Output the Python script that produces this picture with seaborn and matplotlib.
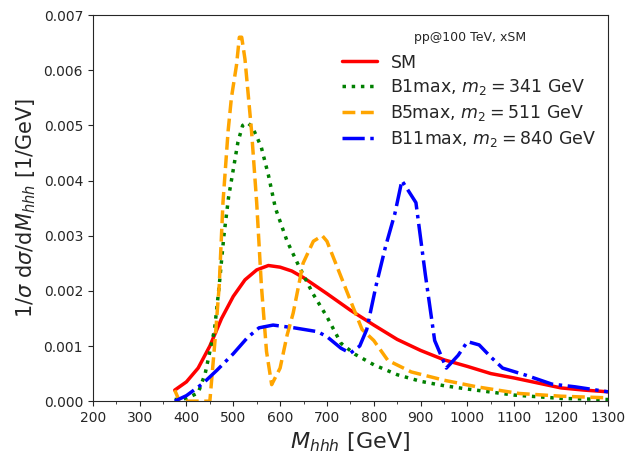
import numpy as np
import pandas as pd
import matplotlib
matplotlib.use('Agg')
import matplotlib.pyplot as plt
import seaborn as sns
from matplotlib.ticker import MultipleLocator

# values
sm_x = [375, 400, 425, 450, 475, 500, 525, 550, 575, 600, 625, 650, 700, 750, 800, 850, 900, 950, 1000, 1050, 1100, 1150, 1200, 1250, 1300]
sm_y = [0.0002, 0.00035, 0.0006, 0.001, 0.0015, 0.0019, 0.0022, 0.00238, 0.00246, 0.00243, 0.00236, 0.00224, 0.00195, 0.00165, 0.00138, 0.00112, 0.00092, 0.00075, 0.00063, 0.0005, 0.00042, 0.00033, 0.00024, 0.0002, 0.00017]

b1_x = [375, 400, 425, 440, 450, 460, 470, 480, 490, 500, 510, 520, 530, 540, 550, 560, 575, 590, 615, 640, 670, 700, 730, 760, 800, 850, 900, 950, 1000, 1100, 1200, 1300]
b1_y = [0.00003, 0.00005, 0.00015, 0.0005, 0.0009, 0.0013, 0.0021, 0.003, 0.0037, 0.0042, 0.0047, 0.005, 0.00505, 0.00498, 0.0048, 0.0046, 0.0041, 0.0035, 0.0029, 0.00245, 0.00195, 0.00153, 0.00105, 0.00085, 0.00066, 0.00048, 0.00036, 0.00028, 0.00022, 0.00011, 0.00005, 0.00003]

b5_x = [375, 385, 400, 425, 450, 462, 470, 478, 489, 496, 507, 513, 518, 525, 539, 550, 560, 571, 582, 600, 615, 628, 649, 671, 690, 700, 728, 756, 775, 800, 830, 880, 950, 1020, 1110, 1200, 1300]
b5_y = [0.0002, 0.0, 0.0, 0.0, 0.0, 0.0012, 0.0021, 0.0036, 0.0049, 0.0055, 0.0061, 0.0066, 0.0066, 0.0062, 0.0049, 0.0036, 0.0021, 0.0009, 0.0003, 0.0006, 0.0012, 0.0016, 0.0025, 0.0029, 0.003, 0.0029, 0.0023, 0.0017, 0.0013, 0.0011, 0.00074, 0.00053, 0.00038, 0.00026, 0.00014, 0.00009, 0.00006]

b11_x = [375, 400, 435, 465, 500, 530, 555, 585, 630, 680, 700, 730, 750, 770, 785, 805, 825, 845, 860, 875, 890, 910, 930, 955, 980, 1000, 1025, 1050, 1075, 1125, 1180, 1230, 1300]
b11_y = [0.0, 0.0001, 0.00032, 0.00056, 0.00086, 0.00115, 0.00133, 0.00138, 0.00133, 0.00126, 0.00117, 0.00096, 0.00087, 0.001, 0.0013, 0.0021, 0.0028, 0.0034, 0.004, 0.0038, 0.0036, 0.0023, 0.0011, 0.0006, 0.00083, 0.00108, 0.00102, 0.0008, 0.0006, 0.00047, 0.00031, 0.00026, 0.00017]

sns.set_style('ticks')
plt.rcParams['font.family'] = ['DejaVu Sans']
plt.rcParams['mathtext.fontset'] = 'dejavusans'

fig = plt.figure(figsize=(6.31, 4.59), dpi=100)
ax = fig.add_axes([0.147, 0.126, 0.8165, 0.841])

lw = 2.5
sns.lineplot(x=sm_x, y=sm_y, ax=ax, color='red', lw=lw, label='SM')
sns.lineplot(x=b1_x, y=b1_y, ax=ax, color='green', lw=lw, ls=':', label=r'B1max, $m_2 = 341$ GeV')
sns.lineplot(x=b5_x, y=b5_y, ax=ax, color='orange', lw=lw, ls='--', label=r'B5max, $m_2 = 511$ GeV')
sns.lineplot(x=b11_x, y=b11_y, ax=ax, color='blue', lw=lw, ls='-.', label=r'B11max, $m_2 = 840$ GeV')

ax.set_xlim(200, 1300)
ax.set_ylim(0, 0.007)
ax.xaxis.set_major_locator(MultipleLocator(100))
ax.xaxis.set_minor_locator(MultipleLocator(50))
ax.yaxis.set_major_locator(MultipleLocator(0.001))
ax.yaxis.set_major_formatter(matplotlib.ticker.FormatStrFormatter('%.3f'))
ax.tick_params(labelsize=10)

ax.set_xlabel(r'$M_{hhh}$ [GeV]', fontsize=16)
ax.set_ylabel(r'$1/\sigma\ \mathrm{d}\sigma/\mathrm{d}M_{hhh}$ [1/GeV]', fontsize=15)

leg = ax.legend(loc='upper right', frameon=False, fontsize=12.5, labelspacing=0.34,
                bbox_to_anchor=(1.008, 0.941))
ax.text(0.732, 0.943, 'pp@100 TeV, xSM', transform=ax.transAxes,
        ha='center', va='center', fontsize=9)

fig.savefig('out.png', dpi=100)
